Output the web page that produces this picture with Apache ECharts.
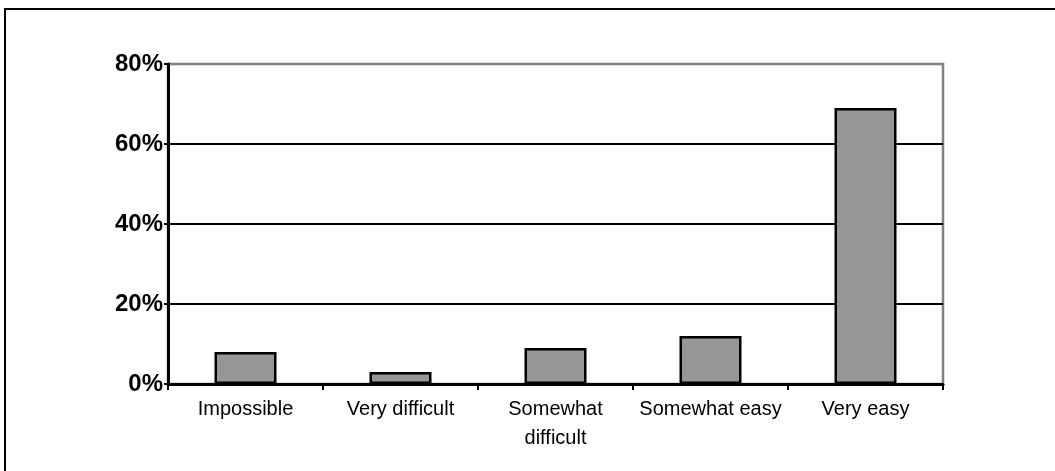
<!DOCTYPE html>
<html>
<head>
<meta charset="utf-8">
<title>Ease of use</title>
<script src="https://cdn.jsdelivr.net/npm/echarts@6/dist/echarts.min.js"></script>
<style>
  html, body { margin: 0; padding: 0; background: #fff; }
  #chart { width: 1055px; height: 471px; }
</style>
</head>
<body>
<div id="chart"></div>
<script>
// Response categories (x axis)
const categories = ['Impossible', 'Very difficult', 'Somewhat\ndifficult', 'Somewhat easy', 'Very easy'];
// Share of respondents, in percent
const shares = [8, 3, 9, 12, 69];
// Value axis range and step
const yMin = 0;
const yMax = 80;
const yStep = 20;

const chart = echarts.init(document.getElementById('chart'), null, { renderer: 'canvas' });

chart.setOption({
  animation: false,
  backgroundColor: '#ffffff',
  graphic: [{
    type: 'rect',
    shape: { x: 5, y: 9, width: 1200, height: 600 },
    style: { fill: 'none', stroke: '#000', lineWidth: 2 },
    silent: true,
    z: 100
  }],
  grid: {
    left: 168, top: 64, right: 112, bottom: 87,
    show: true,
    borderColor: '#808080',
    borderWidth: 2.5,
    backgroundColor: 'transparent'
  },
  xAxis: {
    type: 'category',
    data: categories,
    boundaryGap: true,
    axisLine: { lineStyle: { color: '#000', width: 3 } },
    axisTick: { show: true, length: 6, lineStyle: { color: '#000', width: 2 } },
    axisLabel: {
      color: '#000',
      fontFamily: 'Liberation Sans, Arial, sans-serif',
      fontSize: 20,
      lineHeight: 29,
      margin: 11,
      interval: 0
    },
    splitLine: { show: false }
  },
  yAxis: {
    type: 'value',
    min: yMin,
    max: yMax,
    interval: yStep,
    axisLine: { show: true, lineStyle: { color: '#000', width: 3 } },
    axisTick: { show: true, length: 4, lineStyle: { color: '#000', width: 2 } },
    axisLabel: {
      color: '#000',
      fontFamily: 'Liberation Sans, Arial, sans-serif',
      fontWeight: 'bold',
      fontSize: 24,
      margin: 5,
      formatter: v => v + '%'
    },
    splitLine: {
      show: true,
      showMinLine: false,
      showMaxLine: false,
      lineStyle: { color: '#000', width: 2 }
    }
  },
  series: [{
    type: 'bar',
    data: shares,
    barWidth: '40%',
    itemStyle: { color: '#969696', borderColor: '#000', borderWidth: 2.5 }
  }]
});
</script>
</body>
</html>
